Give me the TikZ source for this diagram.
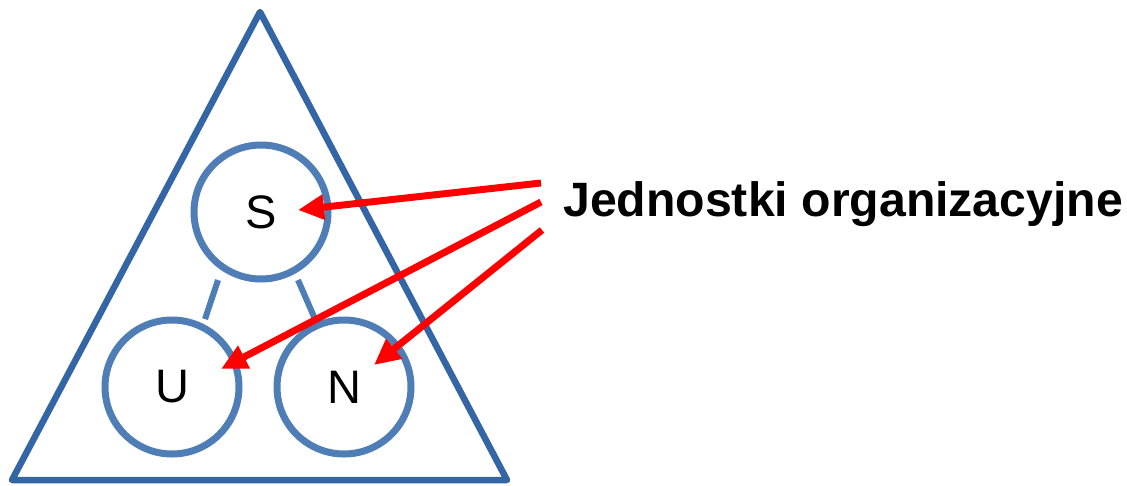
\documentclass[tikz,border=0pt]{standalone}
\usepackage{fontspec}
\setmainfont{Liberation Sans}
\usetikzlibrary{arrows.meta}
\definecolor{triblue}{HTML}{3465A4}
\definecolor{cirblue}{HTML}{4F7DB5}
\tikzset{
  unit/.style={circle, draw=cirblue, line width=7pt, minimum size=134pt, inner sep=0pt, font=\fontsize{47}{50}\selectfont},
  link/.style={draw=cirblue, line width=6pt},
  redarrow/.style={draw=red, line width=7pt, -{Triangle[length=26pt,width=24pt]}},
}
\begin{document}
\begin{tikzpicture}[x=1pt,y=-1pt]
\useasboundingbox (0,0) rectangle (1127,485);
\draw[triblue, line width=6.5pt, line join=round] (260,12) -- (507,480) -- (12,480) -- cycle;
\node[unit] (S) at (261,212) {S};
\node[unit] (U) at (172,387) {U};
\node[unit] (N) at (344,387) {N};
\coordinate (su1) at (218,280);
\coordinate (su2) at (205,319);
\coordinate (sn1) at (298,280);
\coordinate (sn2) at (315,319);
\draw[link] (su1) -- (su2);
\draw[link] (sn1) -- (sn2);
\node[anchor=west, font=\bfseries\fontsize{48.2}{52}\selectfont, inner sep=0pt] (T) at (563,204) {Jednostki organizacyjne};
\coordinate (a1) at (541,183);
\coordinate (a2) at (541,202);
\coordinate (a3) at (542,230);
\draw[redarrow] (a1) -- (298,210);
\draw[redarrow] (a2) -- (221,369);
\draw[redarrow] (a3) -- (374,365);
\end{tikzpicture}
\end{document}
